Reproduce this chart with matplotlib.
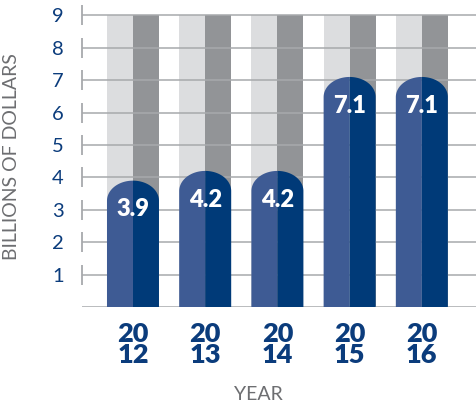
import matplotlib
matplotlib.use("Agg")
import matplotlib.pyplot as plt
import numpy as np
from matplotlib.patches import Polygon

years = ["2012", "2013", "2014", "2015", "2016"]
values = [3.9, 4.2, 4.2, 7.1, 7.1]
value_labels = ["3.9", "4.2", "4.2", "7.1", "7.1"]
yticks = [1, 2, 3, 4, 5, 6, 7, 8, 9]
ymax_col = 9

NAVY = "#003A78"
LBLUE = "#3E5B94"
LGREY = "#DCDDDF"
DGREY = "#929497"
GRID = "#A7A9AC"
TXT = "#0B3C7C"
AXTXT = "#6D6E71"
FONT = "Lato"

fig = plt.figure(figsize=(4.77, 4.13), dpi=100)
ax = fig.add_axes([82/477, (413-307)/413, (477-82)/477, 302/413])
ax.set_xlim(-0.706, 4.764)
ax.set_ylim(0, 302/32.4)
for s in ax.spines.values():
    s.set_visible(False)

x = np.arange(len(years))
w = 0.72
hw = w / 2
cap = 0.62

# background columns
for xi in x:
    ax.bar(xi - hw/2, ymax_col, width=hw, color=LGREY, zorder=1, linewidth=0)
    ax.bar(xi + hw/2, ymax_col, width=hw, color=DGREY, zorder=1, linewidth=0)

# gridlines
for yt in [0] + yticks:
    ax.axhline(yt, color=GRID, lw=1.1, zorder=2)
ax.vlines([ax.get_xlim()[0] + 0.005]*len(yticks), np.array(yticks) - 0.31,
          np.array(yticks) + 0.31, color=GRID, lw=1.3, zorder=2, clip_on=False)

# rounded bars
t_left = np.linspace(np.pi, np.pi/2, 40)
t_right = np.linspace(np.pi/2, 0, 40)
for xi, v, lab in zip(x, values, value_labels):
    base = v - cap
    left = [(xi - hw, 0), (xi - hw, base)] + \
        [(xi + hw*np.cos(t), base + cap*np.sin(t)) for t in t_left] + [(xi, 0)]
    right = [(xi, 0)] + \
        [(xi + hw*np.cos(t), base + cap*np.sin(t)) for t in t_right] + [(xi + hw, 0)]
    ax.add_patch(Polygon(left, closed=True, facecolor=LBLUE, edgecolor="none", zorder=3))
    ax.add_patch(Polygon(right, closed=True, facecolor=NAVY, edgecolor="none", zorder=3))
    ax.text(xi, v - 1.1, lab, ha="center", va="baseline", color="white",
            fontsize=17, fontweight="heavy", family=FONT, zorder=4)

ax.set_yticks(yticks)
ax.set_yticklabels([str(v) for v in yticks], fontsize=14.5, color=TXT, family=FONT)
ax.tick_params(axis="y", length=0, pad=13)
ax.set_xticks(x)
ax.set_xticklabels([y[:2] + "\n" + y[2:] for y in years], fontsize=19.5,
                   fontweight="heavy", color=TXT, family=FONT, linespacing=0.85)
ax.tick_params(axis="x", length=0, pad=11)

fig.text(258/477, (413-395)/413, "YEAR", ha="center", va="center",
         fontsize=14, color=AXTXT, family=FONT)
fig.text(12/477, (413-157)/413, "BILLIONS OF DOLLARS", ha="center", va="center",
         rotation=90, fontsize=14, color=AXTXT, family=FONT)

fig.savefig("out.png", dpi=100)
